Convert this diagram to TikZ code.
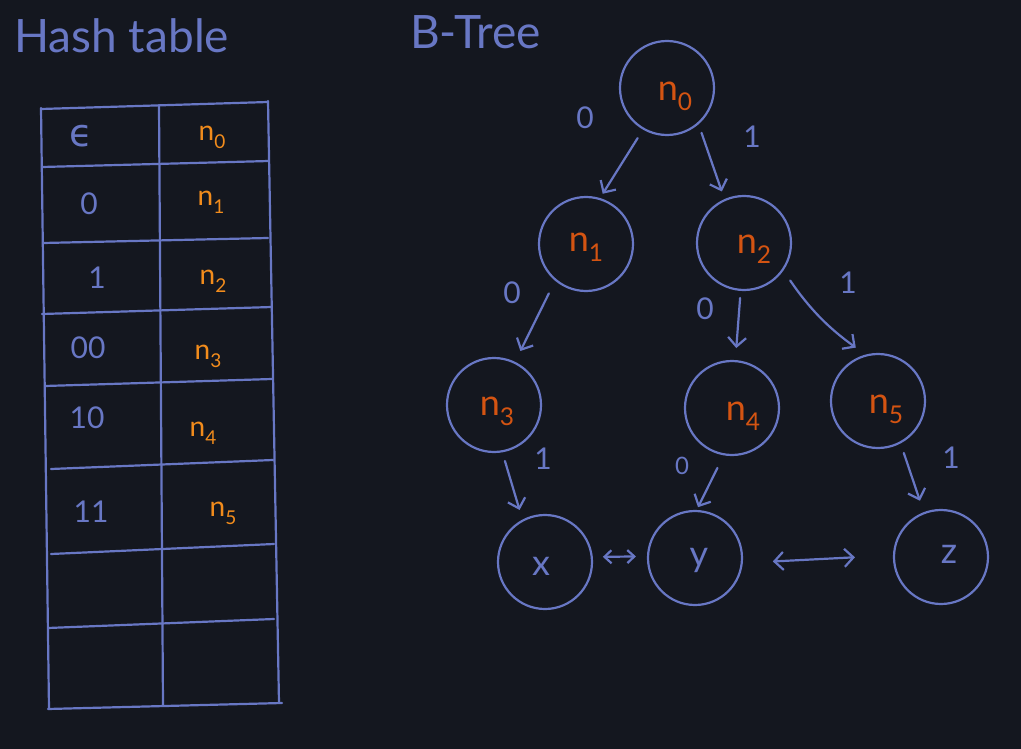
\documentclass[tikz,border=0pt]{standalone}
\usepackage{fontspec}
\setmainfont{Lato}
\newfontfamily\djv{DejaVu Sans}
\usetikzlibrary{arrows.meta}
\definecolor{bg}{RGB}{20,23,31}
\definecolor{ink}{RGB}{104,119,196}
\definecolor{tor}{RGB}{242,140,28}
\definecolor{nor}{RGB}{212,84,18}
\newcommand\nsb[1]{n\raisebox{-0.28em}{\fontsize{0.68em}{0.68em}\selectfont #1}}
\tikzset{
  ln/.style={draw=ink,line width=2.2pt,line cap=round,line join=round},
  barb/.tip={Straight Barb[length=9pt,width=18pt]},
  sbarb/.tip={Straight Barb[length=7pt,width=13pt]},
  arr/.style={ln,-{barb}},
  tnode/.style={circle,draw=ink,line width=2.2pt,minimum size=94pt,inner sep=0pt},
  nlab/.style={text=nor,font=\fontsize{36}{36}\selectfont},
  leaf/.style={text=ink,font=\fontsize{36}{36}\selectfont},
  elab/.style={text=ink,font=\fontsize{30}{30}\selectfont,inner sep=0pt},
  tkey/.style={text=ink,font=\fontsize{30}{30}\selectfont,inner sep=0pt},
  tval/.style={text=tor,font=\fontsize{28}{28}\selectfont,inner sep=0pt},
  ttl/.style={text=ink,font=\fontsize{46}{46}\selectfont,inner sep=0pt,anchor=base west}
}
\begin{document}
\begin{tikzpicture}[x=1pt,y=-1pt]
\fill[bg] (0,0) rectangle (1021,749);
\useasboundingbox (0,0) rectangle (1021,749);

% titles
\node[ttl] (t1) at (14,53) {Hash table};
\node[ttl] (t2) at (410,49) {B-Tree};

% table grid
\coordinate (a0) at (41,109);  \coordinate (b0) at (268,102);
\coordinate (a1) at (42,167);  \coordinate (b1) at (269,161);
\coordinate (a2) at (43,243);  \coordinate (b2) at (268,238);
\coordinate (a3) at (42,314);  \coordinate (b3) at (272,307);
\coordinate (a4) at (45,386);  \coordinate (b4) at (272,379);
\coordinate (a5) at (51,469);  \coordinate (b5) at (273,460);
\coordinate (a6) at (51,554);  \coordinate (b6) at (274,544);
\coordinate (a7) at (48,628);  \coordinate (b7) at (274,619);
\coordinate (a8) at (48,709);  \coordinate (b8) at (282,703);
\coordinate (lt) at (41,108);  \coordinate (lb) at (49,709);
\coordinate (mt) at (159,105); \coordinate (mb) at (163,705);
\coordinate (rt) at (268,101); \coordinate (rb) at (279,703);
\foreach \i in {0,...,8} {\draw[ln] (a\i) -- (b\i);}
\draw[ln] (lt) -- (lb);
\draw[ln] (mt) -- (mb);
\draw[ln] (rt) -- (rb);

% table contents
\node[tkey,font=\djv\fontsize{38}{38}\selectfont] (k0) at (81,136) {ϵ};
\node[tkey] (k1) at (89,204) {0};
\node[tkey] (k2) at (97,278) {1};
\node[tkey] (k3) at (88,348) {00};
\node[tkey] (k4) at (87,418) {10};
\node[tkey] (k5) at (91,512) {11};
\node[tval] (v0) at (212,137) {\nsb{0}};
\node[tval] (v1) at (211,202) {\nsb{1}};
\node[tval] (v2) at (213,281) {\nsb{2}};
\node[tval] (v3) at (208,356) {\nsb{3}};
\node[tval] (v4) at (203,433) {\nsb{4}};
\node[tval] (v5) at (223,513) {\nsb{5}};

% tree nodes
\node[tnode,label={[nlab,xshift=8pt,yshift=-8pt]center:\nsb{0}}] (n0) at (667,88) {};
\node[tnode,label={[nlab,xshift=0pt,yshift=-3pt]center:\nsb{1}}] (n1) at (586,244) {};
\node[tnode,label={[nlab,xshift=10pt,yshift=-6pt]center:\nsb{2}}] (n2) at (744,243) {};
\node[tnode,label={[nlab,xshift=3pt,yshift=-6pt]center:\nsb{3}}] (n3) at (494,405) {};
\node[tnode,label={[nlab,xshift=11pt,yshift=-8pt]center:\nsb{4}}] (n4) at (732,408) {};
\node[tnode,label={[nlab,xshift=8pt,yshift=-8pt]center:\nsb{5}}] (n5) at (878,401) {};
\node[tnode,label={[leaf,xshift=-4pt,yshift=-4pt]center:x}] (x) at (545,562) {};
\node[tnode,label={[leaf,xshift=4pt,yshift=-2pt]center:y}] (y) at (695,558) {};
\node[tnode,label={[leaf,xshift=8pt,yshift=3pt]center:z}] (z) at (941,557) {};

% edges
\draw[arr,shorten <=10pt,shorten >=5pt] (n0.-120) -- (n1.73);
\draw[arr,shorten <=9pt,shorten >=8pt] (n0.-49) -- (n2.114);
\draw[arr,shorten <=14pt,shorten >=12pt] (n1.-130) -- (n3.64);
\draw[arr,shorten <=7pt,shorten >=12pt] (n2.-94) -- (n4.86);
\draw[arr,shorten <=12pt,shorten >=12pt] (n2.-35) to[bend right=10] (n5.105);
\draw[arr,shorten <=9pt,shorten >=10pt] (n3.-80) -- (x.118);
\draw[arr,shorten <=14pt,shorten >=3pt] (n4.-100) -- (y.88);
\draw[arr,shorten <=10pt,shorten >=12pt] (n5.-62) -- (z.111);
\draw[ln,{sbarb}-{sbarb},shorten <=10pt,shorten >=11pt] (x.6) -- (y.178);
\draw[ln,{barb}-{barb},shorten <=30pt,shorten >=38pt] (y.-6) -- (z.178);

% edge labels
\node[elab] (e1) at (585,118) {0};
\node[elab] (e2) at (752,137) {1};
\node[elab] (e3) at (512,293) {0};
\node[elab] (e4) at (848,283) {1};
\node[elab] (e5) at (705,309) {0};
\node[elab] (e6) at (543,459) {1};
\node[elab,font=\fontsize{24}{24}\selectfont] (e7) at (682,466) {0};
\node[elab] (e8) at (951,458) {1};
\end{tikzpicture}
\end{document}
